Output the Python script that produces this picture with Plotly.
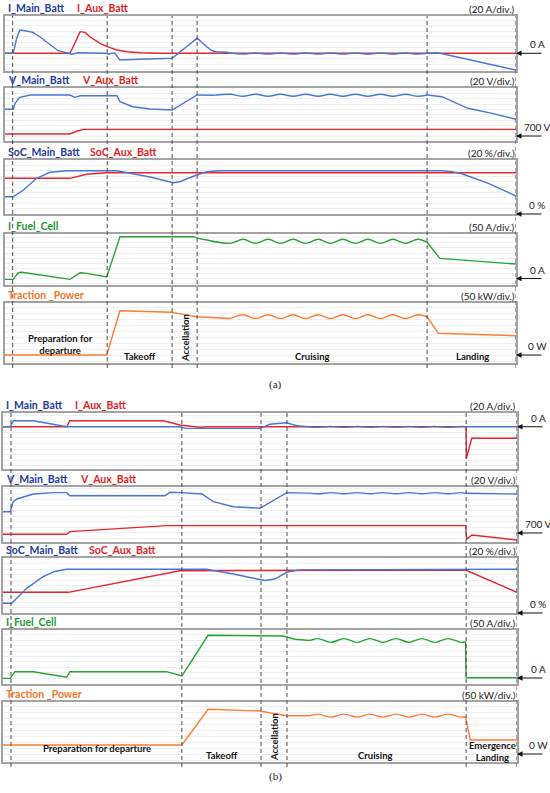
import plotly.graph_objects as go

W, H = 550, 793

# time runs 0..100 across each panel; values are in grid divisions,
# measured from the reference level that the arrow on the right points at

# ---------------- (a) normal mission ----------------
A_PHASES = [1.5, 20.0, 32.7, 37.6, 82.6, 100]

A_I_MAIN_T = [0, 1.6, 2.3, 2.9, 3.9, 5.5, 6.8, 8.8, 10.4, 12.1, 12.7, 13.1, 14.3, 17.2, 19.8,
              20.2, 20.9, 21.5, 22.1, 22.5, 26.4, 32.7, 37.6, 39.5, 40.7, 43.4, 44.1, 46.6, 49.0,
              51.5, 53.9, 56.4, 58.8, 61.3, 63.7, 66.1, 68.6, 71.0, 73.5, 75.9, 78.4, 80.8, 82.6,
              84.7, 100]
A_I_MAIN = [0, 0, 2.8, 4.24, 4.1, 3.8, 3.0, 1.5, 0.47, 0.1, 0, -0.18, 0.1, 0.1, 0,
            -0.18, 0, 0, -0.62, -1.22, -1.09, -0.91, 2.73, 1.2, 0.42, 0.18, 0.05, -0.15, 0.05,
            -0.15, 0.05, -0.15, 0.05, -0.15, 0.05, -0.15, 0.05, -0.15, 0.05, -0.15, 0.05, -0.15, 0,
            0.1, -3.04]
A_I_AUX_T = [0, 12.7, 13.5, 14.7, 15.7, 16.6, 18.6, 20.0, 21.9, 23.9, 26.4, 30.3, 100]
A_I_AUX = [0, 0, 1.5, 3.93, 3.8, 3.0, 1.8, 1.2, 0.6, 0.29, 0.1, 0, 0]

A_V_MAIN_T = [0, 1.6, 1.96, 2.9, 4.9, 12.7, 13.7, 14.7, 21.9, 22.5, 25.0, 28.4, 32.7, 37.6, 41.0,
              44.1, 46.6, 49.0, 51.5, 53.9, 56.4, 58.8, 61.3, 63.7, 66.1, 68.6, 71.0, 73.5, 75.9,
              78.4, 80.8, 82.6, 85.5, 90.6, 95.3, 100]
A_V_MAIN = [5.04, 5.04, 6.17, 7.3, 7.74, 7.74, 7.3, 7.6, 7.6, 6.47, 5.53, 5.09, 4.91, 7.74, 7.7,
            7.87, 7.5, 7.87, 7.5, 7.87, 7.5, 7.87, 7.5, 7.87, 7.5, 7.87, 7.5, 7.87, 7.5,
            7.87, 7.5, 7.74, 7.42, 5.23, 4.28, 3.15]
A_V_AUX_T = [0, 12.7, 13.9, 15.3, 100]
A_V_AUX = [0.38, 0.38, 0.85, 1.26, 1.26]

A_SOC_MAIN_T = [0, 1.6, 3.6, 6.2, 8.8, 12.1, 21.9, 28.4, 32.9, 34.2, 37.5, 39.5, 42.1, 85.5, 87.5,
                89.4, 94.6, 100]
A_SOC_MAIN = [3.2, 3.2, 4.44, 6.61, 7.72, 8.02, 8.02, 6.85, 5.8, 5.98, 7.22, 7.83, 8.02, 8.02, 7.85,
              7.45, 5.68, 3.33]
A_SOC_AUX_T = [0, 12.7, 16.0, 19.9, 100]
A_SOC_AUX = [6.61, 6.61, 7.35, 7.65, 7.65]

A_FC_T = [0, 1.6, 2.6, 3.3, 12.7, 14.7, 16.0, 19.9, 22.5, 36.9, 37.8, 39.7, 44.1, 46.6, 49.0, 51.5,
          53.9, 56.4, 58.8, 61.3, 63.7, 66.1, 68.6, 71.0, 73.5, 75.9, 78.4, 80.8, 82.6, 85.1, 100]
A_FC = [-0.16, -0.16, 1.14, 1.22, -0.16, 1.14, 1.02, 0.29, 8.2, 8.2, 7.88, 7.5, 6.9, 7.7, 6.9, 7.7,
        6.9, 7.7, 6.9, 7.7, 6.9, 7.7, 6.9, 7.7, 6.9, 7.7, 6.9, 7.7, 7.1, 3.96, 2.84]

A_TP_T = [0, 19.9, 22.5, 32.6, 34.8, 37.5, 44.1, 46.6, 49.0, 51.5, 53.9, 56.4, 58.8, 61.3, 63.7,
          66.1, 68.6, 71.0, 73.5, 75.9, 78.4, 80.8, 82.6, 84.8, 100]
A_TP = [0, 0, 7.38, 7.12, 6.78, 6.38, 6.08, 6.72, 6.08, 6.72, 6.08, 6.72, 6.08, 6.72, 6.08,
        6.72, 6.08, 6.72, 6.08, 6.72, 6.08, 6.72, 6.38, 3.62, 3.22]

# ---------------- (b) emergency landing ----------------
B_PHASES = [1.56, 34.8, 50.2, 55.25, 90.1, 100]

B_I_MAIN_T = [0, 1.4, 2.0, 5.9, 12.4, 34.4, 35.6, 50.0, 51.9, 55.2, 57.0, 59.3, 61.3, 63.8, 66.3,
              68.9, 71.4, 73.9, 76.5, 79.0, 81.5, 84.0, 86.6, 89.1, 90.0, 100]
B_I_MAIN = [0, 0, 1.07, 1.07, 0, 0, -0.29, -0.29, 0.43, 0.71, 0.21, 0, -0.12, 0.06, -0.12,
            0.06, -0.12, 0.06, -0.12, 0.06, -0.12, 0.06, -0.12, 0.06, 0, 0]
B_I_AUX_T = [0, 12.4, 13.0, 31.2, 34.4, 38.3, 40.3, 90.1, 90.15, 91.2, 100]
B_I_AUX = [0, 0, 1.07, 1.07, 0.3, -0.1, 0, 0, -5.64, -2.07, -2.07]

B_V_MAIN_T = [0, 1.4, 2.0, 2.7, 5.9, 9.8, 12.4, 13.0, 31.5, 32.5, 34.8, 38.7, 40.9, 44.8, 50.0,
              52.9, 55.2, 59.7, 61.3, 63.8, 66.3, 68.9, 71.4, 73.9, 76.5, 79.0, 81.5, 84.0, 86.6,
              89.1, 90.0, 100]
B_V_MAIN = [3.87, 3.87, 5.69, 6.18, 7.09, 7.33, 7.33, 6.78, 6.78, 7.4, 7.33, 7.09, 5.69, 4.78, 4.49,
            6.0, 7.33, 7.25, 7.14, 7.34, 7.14, 7.34, 7.14, 7.34, 7.14, 7.34, 7.14, 7.34, 7.14,
            7.34, 7.22, 7.09]
B_V_AUX_T = [0, 12.4, 13.0, 31.8, 90.0, 90.2, 91.2, 100]
B_V_AUX = [-0.24, -0.24, 0.24, 1.33, 1.33, -1.15, -0.36, -1.27]

B_SOC_MAIN_T = [0, 1.7, 4.6, 7.8, 10.1, 12.4, 39.6, 44.8, 49.0, 51.0, 52.9, 55.3, 57.8, 100]
B_SOC_MAIN = [1.76, 1.76, 4.49, 6.6, 7.55, 7.95, 7.95, 7.1, 6.27, 5.91, 6.18, 7.45, 7.85, 7.95]
B_SOC_AUX_T = [0, 12.7, 34.4, 90.0, 100]
B_SOC_AUX = [3.76, 3.76, 7.69, 7.82, 3.76]

B_FC_T = [0, 1.4, 2.3, 5.9, 12.4, 13.0, 31.8, 34.8, 39.9, 50.3, 54.5, 56.8, 59.7, 61.3, 63.8, 66.3,
          68.9, 71.4, 73.9, 76.5, 79.0, 81.5, 84.0, 86.6, 89.1, 90.0, 90.1, 100]
B_FC = [-0.06, -0.06, 1.17, 1.17, 0.13, 1.17, 1.17, 0.37, 7.91, 7.91, 7.78, 7.17, 6.95, 7.3, 6.6, 7.3,
        6.6, 7.3, 6.6, 7.3, 6.6, 7.3, 6.6, 7.3, 6.6, 6.72, 0.06, 0.06]

B_TP_T = [0, 34.8, 39.9, 50.0, 52.5, 55.2, 59.7, 61.3, 63.8, 66.3, 68.9, 71.4, 73.9, 76.5, 79.0,
          81.5, 84.0, 86.6, 89.1, 90.0, 90.9, 100]
B_TP = [1.5, 1.5, 7.45, 7.17, 6.78, 6.38, 6.38, 6.65, 6.15, 6.65, 6.15, 6.65, 6.15, 6.65, 6.15,
        6.65, 6.15, 6.65, 6.15, 6.22, 2.33, 2.33]

# ---------------- styling ----------------
BLUE, RED, GREEN, ORANGE = "#4877d6", "#e8262d", "#27a336", "#ff7a33"
LBL_BLUE, LBL_RED, LBL_GREEN, LBL_ORANGE = "#1d3b9e", "#e41e26", "#1e9b31", "#f47628"
FRAME = "#a3a3a3"
FONT = "Lato"


def fx(px):
    return px / W


def fy(py):
    return 1 - py / H


# frame geometry (pixels): left, right, [(top, bottom) ...], bottom of y range in divisions;
# "wave" is the cruise window whose ripple is drawn smoothed
PANELS = {
    "a": dict(left=5, right=516, frames=[(16, 71), (88, 141), (160, 214), (234, 285), (303, 363)],
              lows=[-3.22, -0.94, 0, -1.27, -1.33], dash=(16, 368), phases=A_PHASES,
              wave=(39.0, 82.6)),
    "b": dict(left=3, right=517, frames=[(413, 469), (487, 542), (558, 613), (630, 684), (702, 762)],
              lows=[-7.55, -1.64, 0, -1.11, -1.33], dash=(413, 767), phases=B_PHASES,
              wave=(57.0, 90.0)),
}

ROWS = [
    ("a", [(A_I_AUX_T, A_I_AUX, RED), (A_I_MAIN_T, A_I_MAIN, BLUE)],
     [("I_Main_Batt", LBL_BLUE, 6), ("I_Aux_Batt", LBL_RED, 75)], "(20 A/div.)", "0 A"),
    ("a", [(A_V_AUX_T, A_V_AUX, RED), (A_V_MAIN_T, A_V_MAIN, BLUE)],
     [("V_Main_Batt", LBL_BLUE, 6), ("V_Aux_Batt", LBL_RED, 80)], "(20 V/div.)", "700 V"),
    ("a", [(A_SOC_AUX_T, A_SOC_AUX, RED), (A_SOC_MAIN_T, A_SOC_MAIN, BLUE)],
     [("SoC_Main_Batt", LBL_BLUE, 6), ("SoC_Aux_Batt", LBL_RED, 88)], "(20 %/div.)", "0 %"),
    ("a", [(A_FC_T, A_FC, GREEN)], [("I_Fuel_Cell", LBL_GREEN, 6)], "(50 A/div.)", "0 A"),
    ("a", [(A_TP_T, A_TP, ORANGE)], [("Traction _Power", LBL_ORANGE, 6)], "(50 kW/div.)", "0 W"),
    ("b", [(B_I_AUX_T, B_I_AUX, RED), (B_I_MAIN_T, B_I_MAIN, BLUE)],
     [("I_Main_Batt", LBL_BLUE, 4), ("I_Aux_Batt", LBL_RED, 73)], "(20 A/div.)", "0 A"),
    ("b", [(B_V_AUX_T, B_V_AUX, RED), (B_V_MAIN_T, B_V_MAIN, BLUE)],
     [("V_Main_Batt", LBL_BLUE, 4), ("V_Aux_Batt", LBL_RED, 78)], "(20 V/div.)", "700 V"),
    ("b", [(B_SOC_AUX_T, B_SOC_AUX, RED), (B_SOC_MAIN_T, B_SOC_MAIN, BLUE)],
     [("SoC_Main_Batt", LBL_BLUE, 4), ("SoC_Aux_Batt", LBL_RED, 87)], "(20 %/div.)", "0 %"),
    ("b", [(B_FC_T, B_FC, GREEN)], [("I_Fuel_Cell", LBL_GREEN, 4)], "(50 A/div.)", "0 A"),
    ("b", [(B_TP_T, B_TP, ORANGE)], [("Traction _Power", LBL_ORANGE, 4)], "(50 kW/div.)", "0 W"),
]


def split_wave(t, v, w0, w1):
    """Cut a series into (t, v, smooth) pieces: linear outside the cruise window, spline inside."""
    inside = [i for i, ti in enumerate(t) if w0 <= ti <= w1]
    if len(inside) < 4:
        return [(t, v, False)]
    a, b = inside[0], inside[-1]
    return [(t[:a + 1], v[:a + 1], False), (t[a:b + 1], v[a:b + 1], True),
            (t[b:], v[b:], False)]


fig = go.Figure()
layout = {}
annotations = []
shapes = []
count = {"a": 0, "b": 0}

for k, (pname, series, titles, unit, ref) in enumerate(ROWS, start=1):
    p = PANELS[pname]
    idx = count[pname]
    count[pname] += 1
    top, bot = p["frames"][idx]
    low = p["lows"][idx]
    xs = "x" if k == 1 else f"x{k}"
    ys = "y" if k == 1 else f"y{k}"
    axis_line = dict(showline=True, mirror=True, linecolor=FRAME, linewidth=1.5,
                     zeroline=False, showticklabels=False, ticks="", fixedrange=True)
    layout["xaxis" if k == 1 else f"xaxis{k}"] = dict(
        domain=[fx(p["left"]), fx(p["right"])], range=[0, 100], anchor=ys,
        showgrid=False, **axis_line)
    layout["yaxis" if k == 1 else f"yaxis{k}"] = dict(
        domain=[fy(bot), fy(top)], range=[low, low + 10], anchor=xs,
        showgrid=True, gridcolor="#efefef", gridwidth=1, dtick=1, tick0=0, **axis_line)

    for t, v, col in series:
        for tt, vv, smooth in split_wave(t, v, *p["wave"]):
            line = dict(color=col, width=1.4)
            if smooth:
                line.update(shape="spline", smoothing=1)
            fig.add_trace(go.Scatter(x=tt, y=vv, mode="lines", xaxis=xs, yaxis=ys,
                                     line=line, hoverinfo="skip"))

    for text, col, x0 in titles:
        annotations.append(dict(x=fx(x0), y=fy(top - 8), xref="paper", yref="paper",
                                xanchor="left", yanchor="middle", showarrow=False,
                                text=f"<b>{text}</b>", font=dict(family=FONT, size=10.5, color=col)))
    annotations.append(dict(x=fx(p["right"] + 1), y=fy(top - 7), xref="paper", yref="paper",
                            xanchor="right", yanchor="middle", showarrow=False, text=unit,
                            font=dict(family=FONT, size=10, color="#222")))
    # reference arrow and level text
    annotations.append(dict(x=100, y=0, xref=xs, yref=ys, ax=27, ay=0, text="",
                            showarrow=True, arrowhead=2, arrowsize=1.1, arrowwidth=1,
                            arrowcolor="#111"))
    annotations.append(dict(x=fx(p["right"] + 21), y=0, xref="paper", yref=ys, yshift=9,
                            xanchor="center", yanchor="middle", showarrow=False, text=ref,
                            font=dict(family=FONT, size=10, color="#222")))

for pname, xref in (("a", "x"), ("b", "x6")):
    p = PANELS[pname]
    y_top, y_bot = p["dash"]
    for t in p["phases"]:
        shapes.append(dict(type="line", xref=xref, yref="paper", x0=t, x1=t,
                           y0=fy(y_bot), y1=fy(y_top),
                           line=dict(color="#4d4d4d", width=1, dash="4px,3px")))

# phase names inside the traction power frames
PHASE_LABELS = [
    ("Preparation for<br>departure", 60, 344, 0),
    ("Takeoff", 140, 356, 0),
    ("Accellation", 185, 338, -90),
    ("Cruising", 312, 356, 0),
    ("Landing", 472, 356, 0),
    ("Preparation for departure", 97, 748, 0),
    ("Takeoff", 222, 755, 0),
    ("Accellation", 274, 737, -90),
    ("Cruising", 375, 755, 0),
    ("Emergence<br>Landing", 492, 751, 0),
]
for text, x0, y0, ang in PHASE_LABELS:
    annotations.append(dict(x=fx(x0), y=fy(y0), xref="paper", yref="paper", showarrow=False,
                            xanchor="center", yanchor="middle", textangle=ang,
                            text=f"<b>{text}</b>",
                            font=dict(family=FONT, size=9.5, color="#111")))

for text, y0 in (("(a)", 385), ("(b)", 785)):
    annotations.append(dict(x=fx(275), y=fy(y0), xref="paper", yref="paper", showarrow=False,
                            text=text, font=dict(family="Liberation Serif", size=11, color="#222")))

fig.update_layout(**layout)
fig.update_layout(
    width=W, height=H,
    margin=dict(l=0, r=0, t=0, b=0),
    paper_bgcolor="white", plot_bgcolor="white",
    showlegend=False,
    annotations=annotations, shapes=shapes,
)

# drop the browser's default page margin so the figure sits at the window's corner
fig.write_html("out.html", config={"displayModeBar": False},
               post_script="document.body.style.margin='0';")
